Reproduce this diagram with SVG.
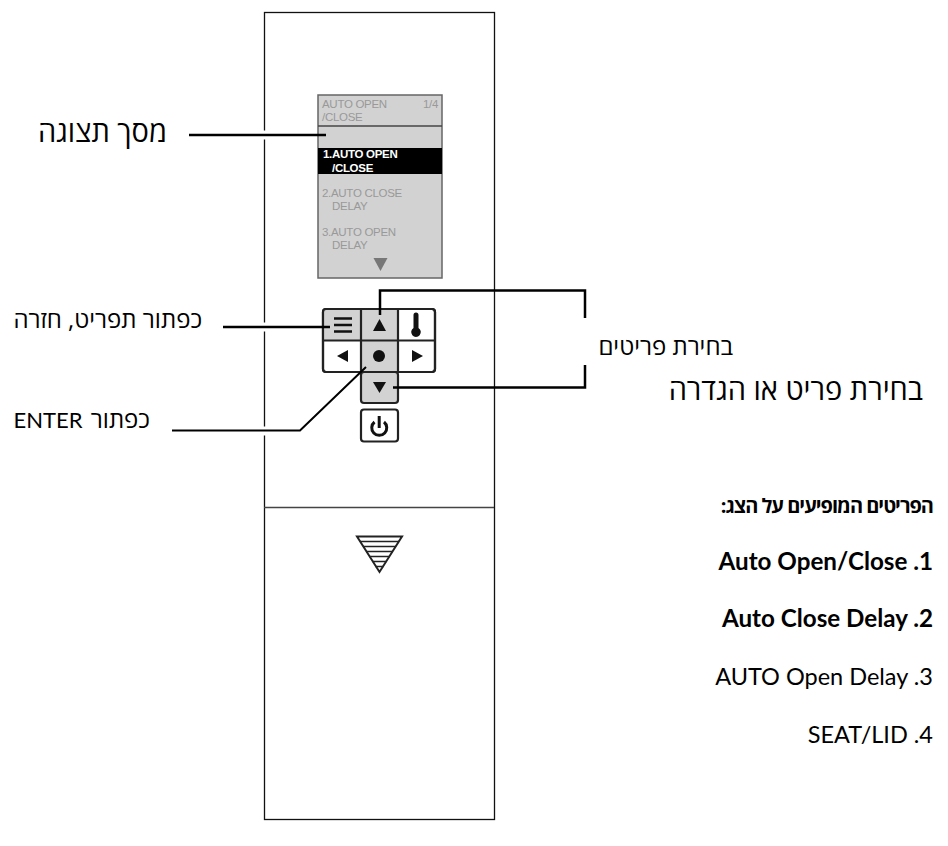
<svg xmlns="http://www.w3.org/2000/svg" width="948" height="846" viewBox="0 0 948 846">
<style>
text{font-family:"Open Sans","DejaVu Sans",sans-serif;fill:#000}
.he{direction:rtl;text-anchor:start}
.lb{font-size:24px}
.big{font-size:29px}
.it{font-family:Lato,"Open Sans",sans-serif;font-size:23.500px;text-anchor:end}
.bi{font-family:Lato,"Open Sans",sans-serif;font-size:24.200px;font-weight:700;text-anchor:end}
.hd{font-size:20px;font-weight:700;letter-spacing:-1px}
.en{font-family:Lato,"Open Sans",sans-serif;font-size:22px}
.sc{font-family:"Liberation Sans",sans-serif;font-size:11.500px;fill:#999;letter-spacing:-.3px}
.sw{fill:#fff;font-weight:700}
.btn{stroke:#222;stroke-width:2.200;stroke-linejoin:round}
.ld{fill:none;stroke:#000;stroke-width:2.500}
.halo{fill:none;stroke:#fff;stroke-width:9}
.g{fill:#d2d2d2}
.w{fill:#fff}
.st{stroke:#222;stroke-width:1.500}
</style>
<g id="remote"><rect x="264.500" y="12.500" width="230" height="807" fill="#fff" stroke="#111" stroke-width="1.300"/><line x1="264" y1="507.500" x2="494" y2="507.500" stroke="#444" stroke-width="1.500"/></g>
<g id="screen">
<rect x="318" y="95" width="124" height="183" fill="#d2d2d2" stroke="#666" stroke-width="1.500"/>
<line x1="318" y1="126" x2="442" y2="126" stroke="#444" stroke-width="1.500"/>
<rect x="318" y="148" width="124" height="26" fill="#000"/>
<text class="sc" x="322" y="108">AUTO OPEN</text><text class="sc" x="423" y="108">1/4</text>
<text class="sc" x="322" y="121">/CLOSE</text>
<text class="sc sw" x="323" y="158">1.AUTO OPEN</text>
<text class="sc sw" x="332" y="172">/CLOSE</text>
<text class="sc" x="322" y="197">2.AUTO CLOSE</text><text class="sc" x="332" y="210">DELAY</text>
<text class="sc" x="322" y="236">3.AUTO OPEN</text><text class="sc" x="332" y="249">DELAY</text>
<polygon points="373.500,258 387.500,258 380.500,271" fill="#777"/>
</g>
<g id="buttons">
<rect class="btn w" x="323" y="309" width="112" height="63" rx="3"/>
<path class="g" d="M323 340.500V312a3 3 0 0 1 3-3H398V340.500ZM361 340.500H398V372H361Z"/>
<rect class="btn g" x="361" y="372" width="37" height="31" rx="3"/>
<path class="btn" fill="none" d="M326 309H432a3 3 0 0 1 3 3V369a3 3 0 0 1-3 3H326a3 3 0 0 1-3-3V312a3 3 0 0 1 3-3ZM361 309V372M398 309V372M323 340.500H435"/>
<rect class="btn w" x="361" y="409.500" width="37" height="32" rx="3"/>
<path d="M334 318.500H352M334 325H352M334 331.500H352" stroke="#111" stroke-width="2.500"/>
<polygon points="373,331 386,331 379.500,319" fill="#111"/>
<path d="M413.500 315a2.500 2.500 0 0 1 5 0V328a4.800 4.800 0 1 1-5 0Z" fill="#111"/>
<polygon points="348,350 348,362 337,356" fill="#111"/>
<circle cx="379" cy="356" r="6" fill="#111"/>
<polygon points="412,350 412,362 423,356" fill="#111"/>
<polygon points="373,382 386,382 379.500,393" fill="#111"/>
<path d="M374.500 422a7.500 7.500 0 1 0 9.500 0M379.200 416V428" fill="none" stroke="#111" stroke-width="3"/>
</g>
<g id="drain">
<path class="st" fill="none" style="stroke-width:2" d="M357 536.500H402L379.500 572Z"/>
<path class="st" fill="none" d="M360 541.500H399M363 546.500H396M366 551.500H393M369.500 556.500H389.500M372.500 561.500H386.500M375.500 566.500H383.500"/>
</g>
<g id="connectors">
<line class="halo" x1="262" y1="135" x2="267" y2="135"/>
<line class="ld" x1="189" y1="135" x2="326" y2="135"/>
<line class="halo" x1="262" y1="327" x2="267" y2="327"/>
<line class="ld" x1="223" y1="327" x2="330" y2="327"/>
<line class="halo" x1="262" y1="431" x2="267" y2="431"/>
<path class="ld" style="stroke-width:2" d="M172 430.500H300L366 367"/>
<path class="ld" d="M380 315V290.500H585V318"/>
<path class="ld" d="M393 387.500H585V365"/>
</g>
<g id="labels">
<text class="he big" x="167" y="142" direction="rtl">מסך תצוגה</text>
<text class="he lb" x="202" y="328" direction="rtl">כפתור תפריט, חזרה</text>
<text class="he lb" x="150" y="428" direction="rtl" word-spacing="2">כפתור <tspan class="en">ENTER</tspan></text>
<text class="he lb" x="733" y="355" direction="rtl">בחירת פריטים</text>
<text class="he big" x="923" y="400" direction="rtl">בחירת פריט או הגדרה</text>
<text class="he hd" x="933" y="513" direction="rtl">הפריטים המופיעים על הצג:</text>
<text class="bi" x="933" y="570">Auto Open/Close .1</text>
<text class="bi" x="933" y="627">Auto Close Delay .2</text>
<text class="it" x="933" y="685">AUTO Open Delay .3</text>
<text class="it" x="933" y="743">SEAT/LID .4</text>
</g>
</svg>
